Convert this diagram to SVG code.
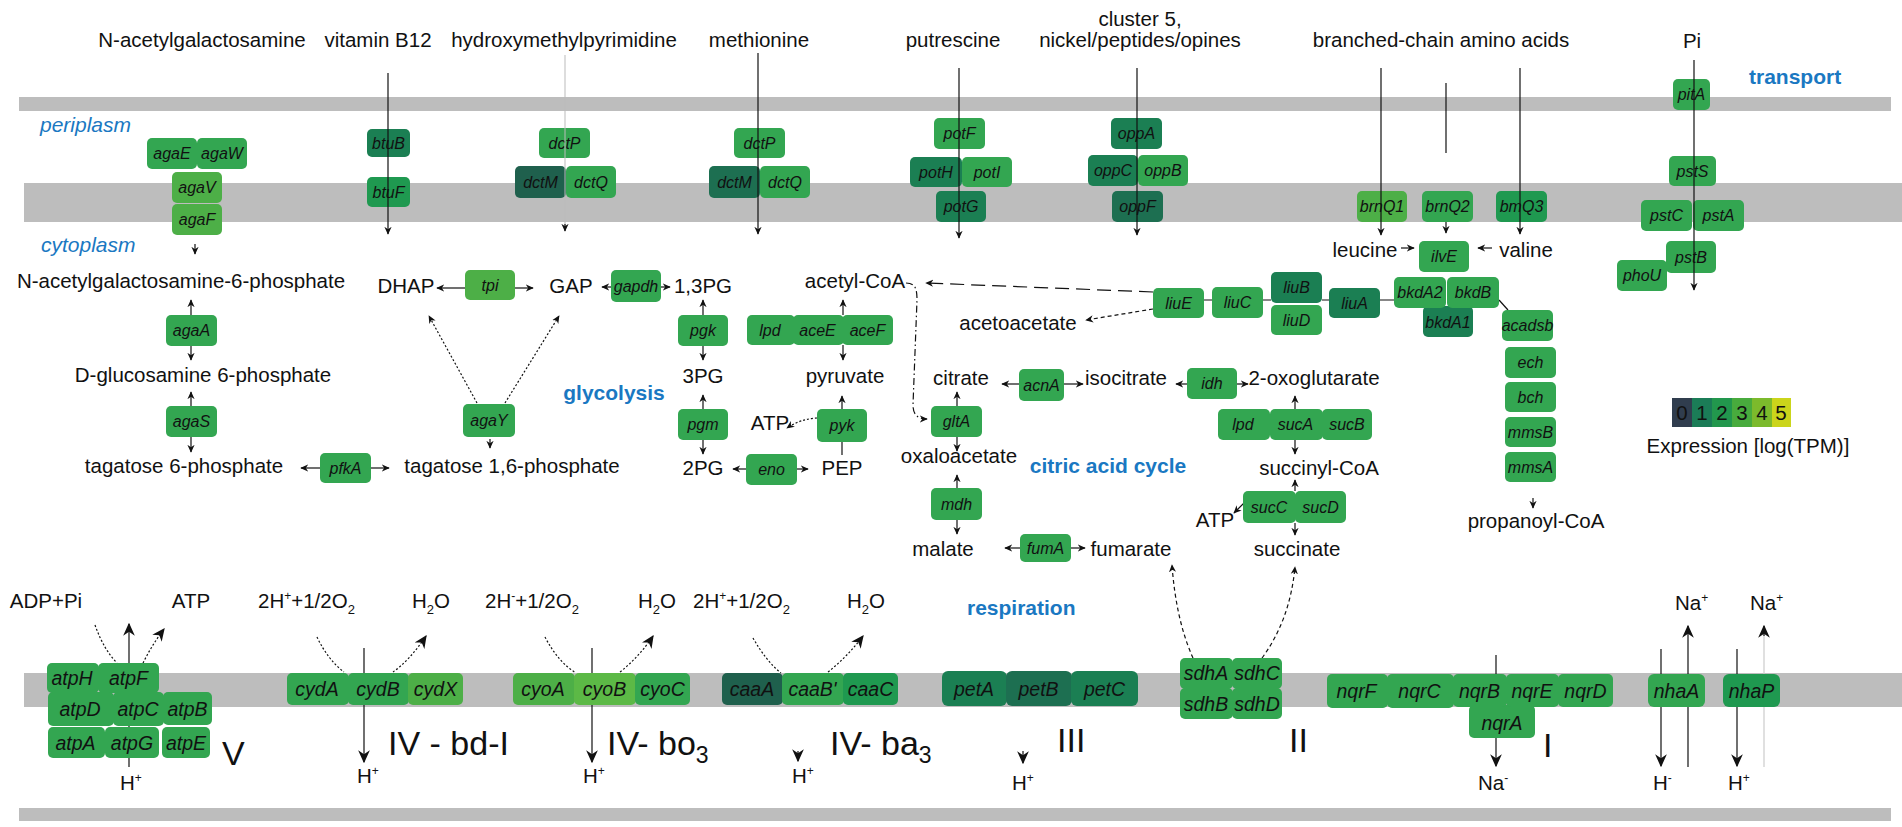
<svg xmlns="http://www.w3.org/2000/svg" width="1902" height="827" viewBox="0 0 1902 827">
<style>
.mem{fill:#bdbdbd}
.m{font-family:"Liberation Sans",Arial,sans-serif;font-size:20.5px;fill:#111;text-anchor:middle}
.ms{font-family:"Liberation Sans",Arial,sans-serif;font-size:20.5px;fill:#111}
.bl{font-family:"Liberation Sans",Arial,sans-serif;font-size:21px;font-weight:bold;fill:#1a78c2}
.bi{font-family:"Liberation Sans",Arial,sans-serif;font-size:21px;font-style:italic;fill:#1a78c2}
.R{font-family:"Liberation Sans",Arial,sans-serif;font-size:34px;fill:#111}
.gt{font-family:"Liberation Sans",Arial,sans-serif;font-style:italic;font-size:16px;fill:#111;text-anchor:middle}
.gt2{font-family:"Liberation Sans",Arial,sans-serif;font-style:italic;font-size:19.5px;fill:#111;text-anchor:middle}
.c3{fill:#33a651}
.c4{fill:#4daf47}
.c5{fill:#5cb946}
.c2{fill:#1b7f53}
.c2b{fill:#1f9950}
.c1{fill:#1f604d}
.c1b{fill:#1d6f51}
.cn{stroke:#111;stroke-width:1.2;fill:none}
.ar{marker-end:url(#ah)}
.arL{marker-end:url(#ahL)}
.dot{stroke-dasharray:2,2}
.dsh{stroke-dasharray:4,3}
</style>
<defs>
<marker id="ah" viewBox="0 0 10 10" refX="9" refY="5" markerWidth="8" markerHeight="8" markerUnits="userSpaceOnUse" orient="auto"><path d="M0,0.5 L10,5 L0,9.5 L3,5 z" fill="#111"/></marker>
<marker id="ahL" viewBox="0 0 10 10" refX="9" refY="5" markerWidth="13" markerHeight="13" markerUnits="userSpaceOnUse" orient="auto"><path d="M0,0.5 L10,5 L0,9.5 L3,5 z" fill="#111"/></marker>
</defs>
<rect width="1902" height="827" fill="#fff"/>
<g id="membranes">
<rect class="mem" x="19" y="97" width="1872" height="14"/>
<rect class="mem" x="24" y="183" width="1878" height="39"/>
<rect class="mem" x="24" y="673" width="1878" height="34"/>
<rect class="mem" x="19" y="808" width="1872" height="13"/>
</g>
<g id="labels">
<text class="m" x="202" y="47">N-acetylgalactosamine</text>
<text class="m" x="378" y="47">vitamin B12</text>
<text class="m" x="564" y="47">hydroxymethylpyrimidine</text>
<text class="m" x="759" y="47">methionine</text>
<text class="m" x="953" y="47">putrescine</text>
<text class="m" x="1140" y="26">cluster 5,</text>
<text class="m" x="1140" y="47">nickel/peptides/opines</text>
<text class="m" x="1441" y="47">branched-chain amino acids</text>
<text class="m" x="1692" y="48">Pi</text>
<text class="bl" x="1749" y="84">transport</text>
<text class="bi" x="40" y="132">periplasm</text>
<text class="bi" x="41" y="252">cytoplasm</text>
<text class="bl" x="614" y="400" text-anchor="middle">glycolysis</text>
<text class="bl" x="1108" y="473" text-anchor="middle">citric acid cycle</text>
<text class="bl" x="967" y="615">respiration</text>
<text class="R" x="222" y="765" font-size="36">V</text>
<text class="R" x="388" y="755">IV - bd-I</text>
<text class="R" x="607" y="755">IV- bo<tspan dy="8" font-size="23">3</tspan></text>
<text class="R" x="830" y="755">IV- ba<tspan dy="8" font-size="23">3</tspan></text>
<text class="R" x="1057" y="752">III</text>
<text class="R" x="1289" y="752">II</text>
<text class="R" x="1543" y="757">I</text>
</g>
<g id="metabolites">
<g id="m-galnac6p"><text class="m" x="181" y="288">N-acetylgalactosamine-6-phosphate</text></g>
<g id="m-glcn6p"><text class="m" x="203" y="382">D-glucosamine 6-phosphate</text></g>
<g id="m-tag6p"><text class="m" x="184" y="473">tagatose 6-phosphate</text></g>
<g id="m-tag16p"><text class="m" x="512" y="473">tagatose 1,6-phosphate</text></g>
<g id="m-dhap"><text class="m" x="406" y="293">DHAP</text></g>
<g id="m-gap"><text class="m" x="571" y="293">GAP</text></g>
<g id="m-13pg"><text class="m" x="703" y="293">1,3PG</text></g>
<g id="m-3pg"><text class="m" x="703" y="383">3PG</text></g>
<g id="m-2pg"><text class="m" x="703" y="475">2PG</text></g>
<g id="m-pep"><text class="m" x="842" y="475">PEP</text></g>
<g id="m-pyr"><text class="m" x="845" y="383">pyruvate</text></g>
<g id="m-accoa"><text class="m" x="855" y="288">acetyl-CoA</text></g>
<g id="m-atp1"><text class="m" x="770" y="430">ATP</text></g>
<g id="m-acac"><text class="m" x="1018" y="330">acetoacetate</text></g>
<g id="m-cit"><text class="m" x="961" y="385">citrate</text></g>
<g id="m-icit"><text class="m" x="1126" y="385">isocitrate</text></g>
<g id="m-2og"><text class="m" x="1314" y="385">2-oxoglutarate</text></g>
<g id="m-oaa"><text class="m" x="959" y="463">oxaloacetate</text></g>
<g id="m-succoa"><text class="m" x="1319" y="475">succinyl-CoA</text></g>
<g id="m-atp2"><text class="m" x="1215" y="527">ATP</text></g>
<g id="m-mal"><text class="m" x="943" y="556">malate</text></g>
<g id="m-fum"><text class="m" x="1131" y="556">fumarate</text></g>
<g id="m-succ"><text class="m" x="1297" y="556">succinate</text></g>
<g id="m-leu"><text class="m" x="1365" y="257">leucine</text></g>
<g id="m-val"><text class="m" x="1526" y="257">valine</text></g>
<g id="m-propcoa"><text class="m" x="1536" y="528">propanoyl-CoA</text></g>
<g id="m-adp"><text class="m" x="46" y="608">ADP+Pi</text></g>
<g id="m-atp3"><text class="m" x="191" y="608">ATP</text></g>
<g id="m-o2a"><text class="ms" x="258" y="608">2H<tspan dy="-8" font-size="12">+</tspan><tspan dy="8">+1/2O</tspan><tspan dy="6" font-size="13">2</tspan></text></g>
<g id="m-h2oa"><text class="ms" x="412" y="608">H<tspan dy="6" font-size="13">2</tspan><tspan dy="-6">O</tspan></text></g>
<g id="m-o2b"><text class="ms" x="485" y="608">2H<tspan dy="-8" font-size="12">-</tspan><tspan dy="8">+1/2O</tspan><tspan dy="6" font-size="13">2</tspan></text></g>
<g id="m-h2ob"><text class="ms" x="638" y="608">H<tspan dy="6" font-size="13">2</tspan><tspan dy="-6">O</tspan></text></g>
<g id="m-o2c"><text class="ms" x="693" y="608">2H<tspan dy="-8" font-size="12">+</tspan><tspan dy="8">+1/2O</tspan><tspan dy="6" font-size="13">2</tspan></text></g>
<g id="m-h2oc"><text class="ms" x="847" y="608">H<tspan dy="6" font-size="13">2</tspan><tspan dy="-6">O</tspan></text></g>
<g id="m-h1"><text class="ms" x="120" y="790">H<tspan dy="-8" font-size="12">+</tspan></text></g>
<g id="m-h2"><text class="ms" x="357" y="783">H<tspan dy="-8" font-size="12">+</tspan></text></g>
<g id="m-h3"><text class="ms" x="583" y="783">H<tspan dy="-8" font-size="12">+</tspan></text></g>
<g id="m-h4"><text class="ms" x="792" y="783">H<tspan dy="-8" font-size="12">+</tspan></text></g>
<g id="m-h5"><text class="ms" x="1012" y="790">H<tspan dy="-8" font-size="12">+</tspan></text></g>
<g id="m-na1"><text class="ms" x="1478" y="790">Na<tspan dy="-8" font-size="12">-</tspan></text></g>
<g id="m-h6"><text class="ms" x="1653" y="790">H<tspan dy="-8" font-size="12">-</tspan></text></g>
<g id="m-h7"><text class="ms" x="1728" y="790">H<tspan dy="-8" font-size="12">+</tspan></text></g>
<g id="m-na2"><text class="ms" x="1675" y="610">Na<tspan dy="-8" font-size="12">+</tspan></text></g>
<g id="m-na3"><text class="ms" x="1750" y="610">Na<tspan dy="-8" font-size="12">+</tspan></text></g>
</g>
<g id="connectors">
<line class="cn ar" x1="195" y1="244" x2="195" y2="254"/>
<line class="cn ar" x1="1446" y1="222" x2="1446" y2="233"/>
<line class="cn ar" x1="1401" y1="248" x2="1414" y2="248"/>
<line class="cn ar" x1="1492" y1="248" x2="1478" y2="248"/>
<path class="cn" d="M1204,300 H1212 M1263,300 H1271 M1322,300 H1329 M1380,300 H1394"/>
<line class="cn" x1="1499" y1="300" x2="1508" y2="310" stroke-width="1"/>
<line class="cn ar" x1="1533" y1="498" x2="1533" y2="508"/>
<path class="cn ar" d="M1153,292 L926,283" stroke-dasharray="14,7"/>
<path class="cn ar dsh" d="M1153,309 L1086,320"/>
<path class="cn ar" d="M906,283 C916,283 917,290 917,300 L913,405 C913,415 918,419 927,419" stroke-dasharray="7,3,1.5,3"/>
<line class="cn ar" x1="465" y1="288" x2="437" y2="288"/>
<line class="cn ar" x1="515" y1="288" x2="533" y2="288"/>
<line class="cn ar" x1="611" y1="287" x2="602" y2="287"/>
<line class="cn ar" x1="661" y1="287" x2="670" y2="287"/>
<line class="cn ar" x1="703" y1="315" x2="703" y2="300"/>
<line class="cn ar" x1="703" y1="346" x2="703" y2="360"/>
<line class="cn ar" x1="703" y1="409" x2="703" y2="395"/>
<line class="cn ar" x1="703" y1="440" x2="703" y2="454"/>
<line class="cn ar" x1="746" y1="469" x2="733" y2="469"/>
<line class="cn ar" x1="797" y1="469" x2="808" y2="469"/>
<line class="cn" x1="842" y1="455" x2="842" y2="442"/>
<line class="cn ar" x1="842" y1="409" x2="842" y2="396"/>
<path class="cn ar dot" d="M817,418 Q800,419 787,428"/>
<line class="cn ar" x1="843" y1="315" x2="843" y2="300"/>
<line class="cn ar" x1="843" y1="345" x2="843" y2="360"/>
<line class="cn ar" x1="191" y1="315" x2="191" y2="300"/>
<line class="cn ar" x1="191" y1="346" x2="191" y2="360"/>
<line class="cn ar" x1="191" y1="406" x2="191" y2="392"/>
<line class="cn ar" x1="191" y1="437" x2="191" y2="452"/>
<line class="cn ar" x1="320" y1="468" x2="301" y2="468"/>
<line class="cn ar" x1="371" y1="468" x2="389" y2="468"/>
<line class="cn ar dot" x1="477" y1="403" x2="429" y2="316"/>
<line class="cn ar dot" x1="505" y1="403" x2="559" y2="316"/>
<line class="cn ar" x1="490" y1="439" x2="490" y2="448"/>
<line class="cn ar" x1="1019" y1="384" x2="1002" y2="384"/>
<line class="cn ar" x1="1064" y1="384" x2="1083" y2="384"/>
<line class="cn ar" x1="1187" y1="384" x2="1176" y2="384"/>
<line class="cn ar" x1="1237" y1="384" x2="1248" y2="384"/>
<line class="cn ar" x1="957" y1="406" x2="957" y2="392"/>
<line class="cn ar" x1="957" y1="437" x2="957" y2="451"/>
<line class="cn ar" x1="957" y1="488" x2="957" y2="475"/>
<line class="cn ar" x1="957" y1="520" x2="957" y2="534"/>
<line class="cn ar" x1="1020" y1="548" x2="1005" y2="548"/>
<line class="cn ar" x1="1071" y1="548" x2="1085" y2="548"/>
<line class="cn ar" x1="1295" y1="409" x2="1295" y2="396"/>
<line class="cn ar" x1="1295" y1="440" x2="1295" y2="454"/>
<line class="cn ar" x1="1295" y1="491" x2="1295" y2="480"/>
<line class="cn ar" x1="1295" y1="523" x2="1295" y2="535"/>
<line class="cn ar" x1="1246" y1="501" x2="1234" y2="513"/>
<line class="cn arL" x1="129" y1="767" x2="129" y2="624" stroke="#666"/>
<path class="cn dot" d="M95,625 Q104,650 117,663"/>
<path class="cn arL dot" d="M143,663 Q152,645 164,629"/>
<line class="cn arL" x1="364" y1="648" x2="364" y2="762" stroke="#777"/>
<path class="cn dot" d="M317,637 Q328,660 344,672"/>
<path class="cn arL dot" d="M393,672 Q410,660 426,636"/>
<line class="cn arL" x1="592" y1="648" x2="592" y2="762"/>
<path class="cn dot" d="M545,637 Q558,662 576,673"/>
<path class="cn arL dot" d="M620,672 Q640,656 653,636"/>
<path class="cn dot" d="M753,638 Q766,661 781,673"/>
<path class="cn arL dot" d="M828,672 Q848,656 863,636"/>
<line class="cn arL" x1="798" y1="751" x2="798" y2="761"/>
<line class="cn arL" x1="1023" y1="751" x2="1023" y2="763"/>
<path class="cn ar dsh" d="M1193,658 Q1176,620 1172,565"/>
<path class="cn ar dsh" d="M1262,658 Q1290,620 1295,567"/>
<line class="cn arL" x1="1496" y1="655" x2="1496" y2="766"/>
<line class="cn arL" x1="1661" y1="649" x2="1661" y2="766"/>
<line class="cn arL" x1="1688" y1="767" x2="1688" y2="626" stroke="#555"/>
<line class="cn arL" x1="1737" y1="649" x2="1737" y2="766" stroke="#777"/>
<line x1="1764" y1="767" x2="1764" y2="632" stroke="#ccc" stroke-width="1.2"/>
<line class="cn arL" x1="1764" y1="636" x2="1764" y2="626"/>
</g>
<g id="genes">
<g id="agaE"><rect class="c3" x="147" y="138" width="50" height="31" rx="5"/><text class="gt" x="172" y="159">agaE</text></g>
<g id="agaW"><rect class="c3" x="197" y="138" width="50" height="31" rx="5"/><text class="gt" x="222" y="159">agaW</text></g>
<g id="agaV"><rect class="c4" x="172" y="172" width="50" height="31" rx="5"/><text class="gt" x="197" y="193">agaV</text></g>
<g id="agaF"><rect class="c4" x="172" y="204" width="50" height="31" rx="5"/><text class="gt" x="197" y="225">agaF</text></g>
<g id="btuB"><rect class="c2" x="367" y="129" width="43" height="28" rx="5"/><text class="gt" x="388.5" y="148.5">btuB</text></g>
<g id="btuF"><rect class="c2b" x="367" y="177" width="43" height="30" rx="5"/><text class="gt" x="388.5" y="197.5">btuF</text></g>
<g id="dctP-1"><rect class="c3" x="539" y="128" width="51" height="30" rx="5"/><text class="gt" x="564.5" y="148.5">dctP</text></g>
<g id="dctM-1"><rect class="c1" x="515" y="166" width="51" height="32" rx="5"/><text class="gt" x="540.5" y="187.5">dctM</text></g>
<g id="dctQ-1"><rect class="c3" x="566" y="166" width="50" height="32" rx="5"/><text class="gt" x="591" y="187.5">dctQ</text></g>
<g id="dctP-2"><rect class="c3" x="734" y="128" width="51" height="30" rx="5"/><text class="gt" x="759.5" y="148.5">dctP</text></g>
<g id="dctM-2"><rect class="c1b" x="709" y="166" width="51" height="32" rx="5"/><text class="gt" x="734.5" y="187.5">dctM</text></g>
<g id="dctQ-2"><rect class="c3" x="760" y="166" width="50" height="32" rx="5"/><text class="gt" x="785" y="187.5">dctQ</text></g>
<g id="potF"><rect class="c3" x="934" y="118" width="51" height="31" rx="5"/><text class="gt" x="959.5" y="139">potF</text></g>
<g id="potH"><rect class="c2" x="910" y="157" width="52" height="30" rx="5"/><text class="gt" x="936" y="177.5">potH</text></g>
<g id="potI"><rect class="c3" x="962" y="157" width="50" height="30" rx="5"/><text class="gt" x="987" y="177.5">potI</text></g>
<g id="potG"><rect class="c2" x="936" y="191" width="50" height="31" rx="5"/><text class="gt" x="961" y="212">potG</text></g>
<g id="oppA"><rect class="c2" x="1111" y="118" width="51" height="31" rx="5"/><text class="gt" x="1136.5" y="139">oppA</text></g>
<g id="oppC"><rect class="c2" x="1088" y="155" width="50" height="31" rx="5"/><text class="gt" x="1113" y="176">oppC</text></g>
<g id="oppB"><rect class="c3" x="1138" y="155" width="50" height="31" rx="5"/><text class="gt" x="1163" y="176">oppB</text></g>
<g id="oppF"><rect class="c1b" x="1112" y="191" width="51" height="31" rx="5"/><text class="gt" x="1137.5" y="212">oppF</text></g>
<g id="brnQ1"><rect class="c4" x="1357" y="191" width="50" height="31" rx="5"/><text class="gt" x="1382" y="212">brnQ1</text></g>
<g id="brnQ2"><rect class="c3" x="1422" y="191" width="51" height="31" rx="5"/><text class="gt" x="1447.5" y="212">brnQ2</text></g>
<g id="brnQ3"><rect class="c2b" x="1496" y="191" width="51" height="31" rx="5"/><text class="gt" x="1521.5" y="212">bmQ3</text></g>
<g id="ilvE"><rect class="c3" x="1419" y="241" width="50" height="31" rx="5"/><text class="gt" x="1444" y="262">ilvE</text></g>
<g id="pitA"><rect class="c3" x="1673" y="79" width="37" height="31" rx="5"/><text class="gt" x="1691.5" y="100">pitA</text></g>
<g id="pstS"><rect class="c3" x="1669" y="156" width="47" height="30" rx="5"/><text class="gt" x="1692.5" y="176.5">pstS</text></g>
<g id="pstC"><rect class="c3" x="1641" y="200" width="51" height="31" rx="5"/><text class="gt" x="1666.5" y="221">pstC</text></g>
<g id="pstA"><rect class="c3" x="1693" y="200" width="51" height="31" rx="5"/><text class="gt" x="1718.5" y="221">pstA</text></g>
<g id="phoU"><rect class="c3" x="1617" y="260" width="50" height="31" rx="5"/><text class="gt" x="1642" y="281">phoU</text></g>
<g id="pstB"><rect class="c3" x="1666" y="241" width="50" height="32" rx="5"/><text class="gt" x="1691" y="262.5">pstB</text></g>
<g id="liuE"><rect class="c3" x="1153" y="288" width="51" height="30" rx="5"/><text class="gt" x="1178.5" y="308.5">liuE</text></g>
<g id="liuC"><rect class="c3" x="1212" y="287" width="51" height="31" rx="5"/><text class="gt" x="1237.5" y="308">liuC</text></g>
<g id="liuB"><rect class="c2" x="1271" y="272" width="51" height="31" rx="5"/><text class="gt" x="1296.5" y="293">liuB</text></g>
<g id="liuD"><rect class="c3" x="1271" y="305" width="51" height="30" rx="5"/><text class="gt" x="1296.5" y="325.5">liuD</text></g>
<g id="liuA"><rect class="c2" x="1329" y="288" width="51" height="30" rx="5"/><text class="gt" x="1354.5" y="308.5">liuA</text></g>
<g id="bkdA1"><rect class="c2" x="1423" y="306" width="50" height="31" rx="5"/><text class="gt" x="1448" y="328">bkdA1</text></g>
<g id="bkdA2"><rect class="c3" x="1394" y="277" width="52" height="31" rx="5"/><text class="gt" x="1420" y="298">bkdA2</text></g>
<g id="bkdB"><rect class="c3" x="1447" y="277" width="52" height="31" rx="5"/><text class="gt" x="1473" y="298">bkdB</text></g>
<g id="acadsb"><rect class="c3" x="1502" y="310" width="51" height="31" rx="5"/><text class="gt" x="1527.5" y="331" font-size="15.5">acadsb</text></g>
<g id="ech"><rect class="c3" x="1505" y="347" width="51" height="31" rx="5"/><text class="gt" x="1530.5" y="368">ech</text></g>
<g id="bch"><rect class="c3" x="1505" y="382" width="51" height="30" rx="5"/><text class="gt" x="1530.5" y="402.5">bch</text></g>
<g id="mmsB"><rect class="c3" x="1505" y="417" width="51" height="30" rx="5"/><text class="gt" x="1530.5" y="437.5">mmsB</text></g>
<g id="mmsA"><rect class="c3" x="1505" y="452" width="51" height="30" rx="5"/><text class="gt" x="1530.5" y="472.5">mmsA</text></g>
<g id="agaA"><rect class="c3" x="166" y="315" width="51" height="31" rx="5"/><text class="gt" x="191.5" y="336">agaA</text></g>
<g id="agaS"><rect class="c3" x="166" y="406" width="51" height="31" rx="5"/><text class="gt" x="191.5" y="427">agaS</text></g>
<g id="pfkA"><rect class="c3" x="320" y="453" width="51" height="30" rx="5"/><text class="gt" x="345.5" y="473.5">pfkA</text></g>
<g id="tpi"><rect class="c4" x="465" y="270" width="50" height="30" rx="5"/><text class="gt" x="490" y="290.5">tpi</text></g>
<g id="gapdh"><rect class="c3" x="611" y="270" width="50" height="32" rx="5"/><text class="gt" x="636" y="291.5">gapdh</text></g>
<g id="agaY"><rect class="c3" x="463" y="404" width="52" height="33" rx="5"/><text class="gt" x="489" y="426">agaY</text></g>
<g id="pgk"><rect class="c3" x="678" y="315" width="50" height="31" rx="5"/><text class="gt" x="703" y="336">pgk</text></g>
<g id="pgm"><rect class="c3" x="678" y="409" width="50" height="31" rx="5"/><text class="gt" x="703" y="430">pgm</text></g>
<g id="eno"><rect class="c3" x="746" y="454" width="51" height="31" rx="5"/><text class="gt" x="771.5" y="475">eno</text></g>
<g id="pyk"><rect class="c3" x="817" y="409" width="50" height="33" rx="5"/><text class="gt" x="842" y="431">pyk</text></g>
<g id="lpd-1"><rect class="c3" x="747" y="315" width="48" height="30" rx="5"/><text class="gt" x="770" y="335.5">lpd</text></g>
<g id="aceE"><rect class="c3" x="793" y="315" width="51" height="30" rx="5"/><text class="gt" x="817.5" y="335.5">aceE</text></g>
<g id="aceF"><rect class="c3" x="842" y="315" width="51" height="30" rx="5"/><text class="gt" x="867.5" y="335.5">aceF</text></g>
<g id="gltA"><rect class="c3" x="931" y="406" width="51" height="31" rx="5"/><text class="gt" x="956.5" y="427">gltA</text></g>
<g id="acnA"><rect class="c3" x="1019" y="369" width="45" height="32" rx="5"/><text class="gt" x="1041.5" y="390.5">acnA</text></g>
<g id="idh"><rect class="c3" x="1187" y="368" width="50" height="31" rx="5"/><text class="gt" x="1212" y="389">idh</text></g>
<g id="mdh"><rect class="c3" x="931" y="488" width="51" height="32" rx="5"/><text class="gt" x="956.5" y="509.5">mdh</text></g>
<g id="fumA"><rect class="c3" x="1020" y="534" width="51" height="28" rx="5"/><text class="gt" x="1045.5" y="553.5">fumA</text></g>
<g id="lpd-2"><rect class="c3" x="1218" y="409" width="52" height="31" rx="5"/><text class="gt" x="1243" y="430">lpd</text></g>
<g id="sucA"><rect class="c3" x="1270" y="409" width="53" height="31" rx="5"/><text class="gt" x="1295.5" y="430">sucA</text></g>
<g id="sucB"><rect class="c3" x="1322" y="409" width="50" height="31" rx="5"/><text class="gt" x="1347" y="430">sucB</text></g>
<g id="sucC"><rect class="c3" x="1243" y="491" width="53" height="32" rx="5"/><text class="gt" x="1269" y="512.5">sucC</text></g>
<g id="sucD"><rect class="c3" x="1295" y="491" width="51" height="32" rx="5"/><text class="gt" x="1320.5" y="512.5">sucD</text></g>
<g id="atpH"><rect class="c3" x="47" y="663" width="52" height="30" rx="5"/><text class="gt2" x="72" y="684.5">atpH</text></g>
<g id="atpF"><rect class="c3" x="98" y="663" width="61" height="30" rx="5"/><text class="gt2" x="128.5" y="684.5">atpF</text></g>
<g id="atpD"><rect class="c3" x="48" y="692" width="66" height="34" rx="5"/><text class="gt2" x="80" y="715.5">atpD</text></g>
<g id="atpC"><rect class="c3" x="113" y="692" width="51" height="34" rx="5"/><text class="gt2" x="138" y="715.5">atpC</text></g>
<g id="atpB"><rect class="c3" x="163" y="692" width="49" height="33" rx="5"/><text class="gt2" x="187.5" y="715.5">atpB</text></g>
<g id="atpA"><rect class="c3" x="48" y="727" width="57" height="31" rx="5"/><text class="gt2" x="75.5" y="749.5">atpA</text></g>
<g id="atpG"><rect class="c3" x="105" y="727" width="54" height="31" rx="5"/><text class="gt2" x="132" y="749.5">atpG</text></g>
<g id="atpE"><rect class="c3" x="162" y="727" width="48" height="31" rx="5"/><text class="gt2" x="186" y="749.5">atpE</text></g>
<g id="cydA"><rect class="c3" x="287" y="673" width="62" height="32" rx="5"/><text class="gt2" x="317" y="696">cydA</text></g>
<g id="cydB"><rect class="c3" x="348" y="673" width="61" height="32" rx="5"/><text class="gt2" x="378" y="696">cydB</text></g>
<g id="cydX"><rect class="c4" x="408" y="673" width="55" height="32" rx="5"/><text class="gt2" x="435.5" y="696">cydX</text></g>
<g id="cyoA"><rect class="c4" x="513" y="673" width="62" height="32" rx="5"/><text class="gt2" x="543" y="696">cyoA</text></g>
<g id="cyoB"><rect class="c5" x="574" y="673" width="62" height="32" rx="5"/><text class="gt2" x="604.5" y="696">cyoB</text></g>
<g id="cyoC"><rect class="c3" x="635" y="673" width="55" height="32" rx="5"/><text class="gt2" x="662.5" y="696">cyoC</text></g>
<g id="caaA"><rect class="c1" x="722" y="673" width="61" height="32" rx="5"/><text class="gt2" x="752" y="696">caaA</text></g>
<g id="caaB"><rect class="c3" x="782" y="673" width="62" height="32" rx="5"/><text class="gt2" x="812.5" y="696">caaB'</text></g>
<g id="caaC"><rect class="c2b" x="843" y="673" width="55" height="32" rx="5"/><text class="gt2" x="870.5" y="696">caaC</text></g>
<g id="petA"><rect class="c2" x="942" y="671" width="65" height="35" rx="6"/><text class="gt2" x="974" y="695.5">petA</text></g>
<g id="petB"><rect class="c1b" x="1006" y="671" width="66" height="35" rx="6"/><text class="gt2" x="1038.5" y="695.5">petB</text></g>
<g id="petC"><rect class="c2" x="1071" y="671" width="67" height="35" rx="6"/><text class="gt2" x="1104.5" y="695.5">petC</text></g>
<g id="sdhA"><rect class="c3" x="1180" y="658" width="53" height="31" rx="5"/><text class="gt2" x="1206" y="680" font-size="18">sdhA</text></g>
<g id="sdhC"><rect class="c3" x="1232" y="658" width="50" height="31" rx="5"/><text class="gt2" x="1257" y="680" font-size="18">sdhC</text></g>
<g id="sdhB"><rect class="c3" x="1180" y="688" width="53" height="31" rx="5"/><text class="gt2" x="1206" y="710.5" font-size="18">sdhB</text></g>
<g id="sdhD"><rect class="c3" x="1232" y="688" width="50" height="31" rx="5"/><text class="gt2" x="1257" y="710.5" font-size="18">sdhD</text></g>
<g id="nqrF"><rect class="c3" x="1327" y="674" width="61" height="34" rx="5"/><text class="gt2" x="1356.5" y="698">nqrF</text></g>
<g id="nqrC"><rect class="c3" x="1387" y="674" width="67" height="34" rx="5"/><text class="gt2" x="1419.5" y="698">nqrC</text></g>
<g id="nqrA"><rect class="c3" x="1469" y="705" width="66" height="33" rx="5"/><text class="gt2" x="1502" y="729.5">nqrA</text></g>
<g id="nqrB"><rect class="c3" x="1453" y="674" width="54" height="33" rx="5"/><text class="gt2" x="1479.5" y="697.5">nqrB</text></g>
<g id="nqrE"><rect class="c3" x="1506" y="674" width="53" height="33" rx="5"/><text class="gt2" x="1532" y="697.5">nqrE</text></g>
<g id="nqrD"><rect class="c3" x="1558" y="674" width="55" height="33" rx="5"/><text class="gt2" x="1585.5" y="697.5">nqrD</text></g>
<g id="nhaA"><rect class="c3" x="1648" y="674" width="57" height="33" rx="6"/><text class="gt2" x="1676.5" y="697.5">nhaA</text></g>
<g id="nhaP"><rect class="c2b" x="1723" y="674" width="57" height="33" rx="6"/><text class="gt2" x="1751.5" y="697.5">nhaP</text></g>
</g>
<g id="transport-connectors">
<line class="cn ar" x1="388" y1="73" x2="388" y2="234"/>
<line x1="565" y1="55" x2="565" y2="226" stroke="#bbb" stroke-width="1"/>
<line class="cn ar" x1="565" y1="224" x2="565" y2="231"/>
<line class="cn ar" x1="758" y1="53" x2="758" y2="234"/>
<line class="cn ar" x1="959" y1="68" x2="959" y2="238"/>
<line class="cn ar" x1="1137" y1="68" x2="1137" y2="235"/>
<line class="cn ar" x1="1381" y1="68" x2="1381" y2="235"/>
<line class="cn" x1="1446" y1="83" x2="1446" y2="153" stroke="#333"/>
<line class="cn ar" x1="1520" y1="68" x2="1520" y2="234"/>
<line class="cn ar" x1="1694" y1="60" x2="1694" y2="290"/>
</g>
<g id="legend">
<rect x="1672" y="398" width="20" height="29" fill="#303d4e"/>
<rect x="1692" y="398" width="20" height="29" fill="#1b7c57"/>
<rect x="1712" y="398" width="20" height="29" fill="#22974d"/>
<rect x="1732" y="398" width="20" height="29" fill="#48ab3d"/>
<rect x="1752" y="398" width="20" height="29" fill="#7cba2c"/>
<rect x="1772" y="398" width="19" height="29" fill="#cbd51b"/>
<text class="m" x="1682" y="420" font-size="19">0</text>
<text class="m" x="1702" y="420" font-size="19">1</text>
<text class="m" x="1722" y="420" font-size="19">2</text>
<text class="m" x="1742" y="420" font-size="19">3</text>
<text class="m" x="1762" y="420" font-size="19">4</text>
<text class="m" x="1781" y="420" font-size="19">5</text>
<text class="m" x="1748" y="453" font-size="18.5">Expression [log(TPM)]</text>
</g>
</svg>
